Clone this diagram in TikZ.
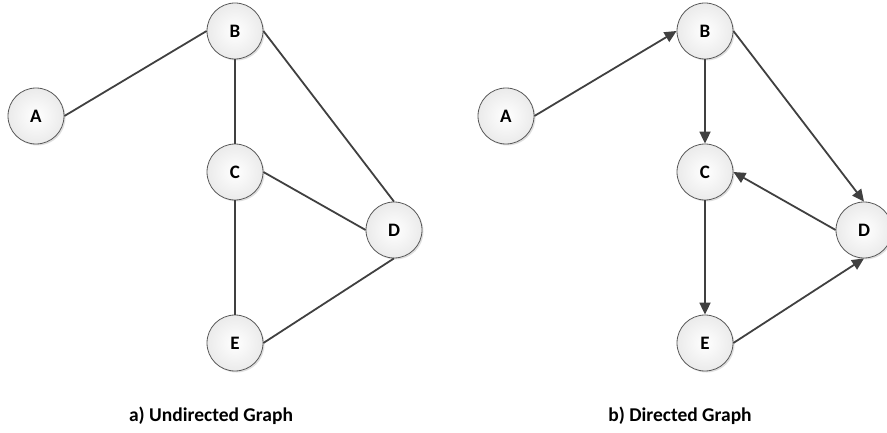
\documentclass[tikz,border=0pt]{standalone}
\usepackage{fontspec}
\setmainfont{Carlito}
\usetikzlibrary{arrows.meta,shadows}
\definecolor{edgecol}{HTML}{404040}
\definecolor{rimcol}{HTML}{5A5A5A}
\tikzset{
  vtx/.style={circle, minimum size=56pt, inner sep=0pt, draw=rimcol, line width=0.8pt,
    inner color=white, outer color=black!8,
    drop shadow={shadow xshift=1.5pt, shadow yshift=-1.5pt, fill=black!25, opacity=0.5},
    font=\fontsize{19}{22}\selectfont\bfseries},
  lnk/.style={draw=edgecol, line width=1.8pt},
  dirlnk/.style={lnk, -{Triangle[length=12pt,width=11pt]}},
  captxt/.style={font=\fontsize{19.5}{23}\selectfont\bfseries}
}
\begin{document}
\begin{tikzpicture}[x=1pt,y=-1pt]
\useasboundingbox (0,0) rectangle (887,433);
% left graph
\node[vtx] (A1) at (36,116) {A};
\node[vtx] (B1) at (235,31) {B};
\node[vtx] (C1) at (235,172) {C};
\node[vtx] (D1) at (394,230) {D};
\node[vtx] (E1) at (235,343) {E};
\draw[lnk] (A1.east) -- (B1.west);
\draw[lnk] (B1.south) -- (C1.north);
\draw[lnk] (B1.east) -- (D1.north);
\draw[lnk] (C1.east) -- (D1.west);
\draw[lnk] (C1.south) -- (E1.north);
\draw[lnk] (E1.east) -- (D1.south);
% right graph
\node[vtx] (A2) at (506,116) {A};
\node[vtx] (B2) at (705,31) {B};
\node[vtx] (C2) at (705,172) {C};
\node[vtx] (D2) at (864,230) {D};
\node[vtx] (E2) at (705,343) {E};
\draw[dirlnk] (A2.east) -- (B2.west);
\draw[dirlnk] (B2.south) -- (C2.north);
\draw[dirlnk] (B2.east) -- (D2.north);
\draw[dirlnk] (D2.west) -- (C2.east);
\draw[dirlnk] (C2.south) -- (E2.north);
\draw[dirlnk] (E2.east) -- (D2.south);
% captions
\node[captxt] (capA) at (211,416) {a) Undirected Graph};
\node[captxt] (capB) at (680,416) {b) Directed Graph};
\end{tikzpicture}
\end{document}
